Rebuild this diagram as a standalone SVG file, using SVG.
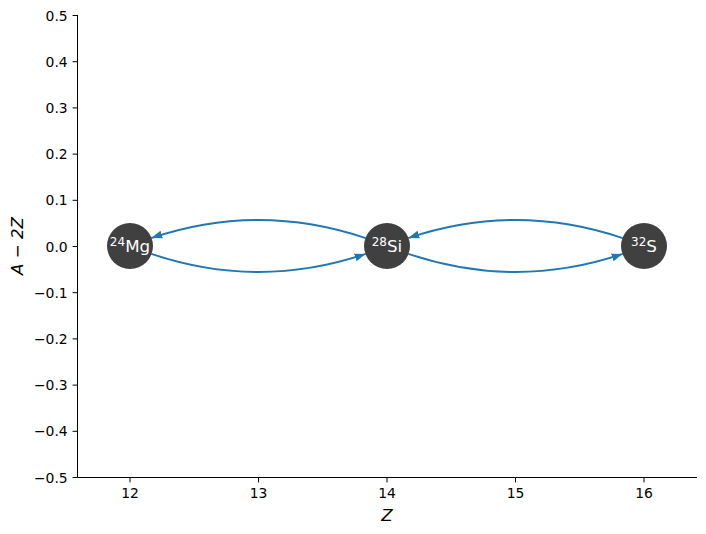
<svg xmlns="http://www.w3.org/2000/svg" width="706" height="534" viewBox="0 0 706 534">
<style>
.ax{stroke:#000;stroke-width:1;fill:none}
.tk{font-family:"DejaVu Sans",sans-serif;font-size:13.9px;fill:#000}
.yl{text-anchor:end}
.xl{text-anchor:middle}
.lab{font-family:"DejaVu Sans",sans-serif;font-size:16.7px;font-style:italic;fill:#000}
.node circle{fill:#404040}
.node text{font-family:"DejaVu Sans",sans-serif;font-size:16.7px;fill:#fff;text-anchor:middle}
.edge{stroke:#1f77b4;stroke-width:2;fill:none;marker-end:url(#ah)}
</style>
<defs>
<marker id="ah" markerUnits="userSpaceOnUse" markerWidth="12" markerHeight="10" refX="11" refY="4" orient="auto" viewBox="0 0 12 8">
<path d="M0,0 L11,4 L0,8 Z" fill="#1f77b4"/>
</marker>
</defs>
<rect width="706" height="534" fill="#fff"/>
<g id="axes">
<path class="ax" d="M77.5,15 V477.5 H697"/>
<path class="ax" d="M72.6,15.5 h4.9 M72.6,61.7 h4.9 M72.6,107.9 h4.9 M72.6,154.1 h4.9 M72.6,200.3 h4.9 M72.6,246.5 h4.9 M72.6,292.7 h4.9 M72.6,338.9 h4.9 M72.6,385.1 h4.9 M72.6,431.3 h4.9 M72.6,477.5 h4.9"/>
<path class="ax" d="M130,477.5 v4.9 M258.5,477.5 v4.9 M387,477.5 v4.9 M515.5,477.5 v4.9 M644,477.5 v4.9"/>
<text class="tk yl" x="67.7" y="20.5">0.5</text>
<text class="tk yl" x="67.7" y="66.7">0.4</text>
<text class="tk yl" x="67.7" y="112.9">0.3</text>
<text class="tk yl" x="67.7" y="159.1">0.2</text>
<text class="tk yl" x="67.7" y="205.3">0.1</text>
<text class="tk yl" x="67.7" y="251.5">0.0</text>
<text class="tk yl" x="67.7" y="297.7">−0.1</text>
<text class="tk yl" x="67.7" y="343.9">−0.2</text>
<text class="tk yl" x="67.7" y="390.1">−0.3</text>
<text class="tk yl" x="67.7" y="436.3">−0.4</text>
<text class="tk yl" x="67.7" y="482.5">−0.5</text>
<text class="tk xl" x="130" y="498">12</text>
<text class="tk xl" x="258.5" y="498">13</text>
<text class="tk xl" x="387" y="498">14</text>
<text class="tk xl" x="515.5" y="498">15</text>
<text class="tk xl" x="644" y="498">16</text>
<text class="lab" x="387" y="521" text-anchor="middle">Z</text>
<text class="lab" transform="translate(23,246) rotate(-90)" text-anchor="middle">A <tspan font-style="normal">−</tspan> 2Z</text>
</g>
<g id="connectors">
<path class="edge" d="M365.7,238.1 Q258.5,201.9 151.3,238.1"/>
<path class="edge" d="M151.3,253.9 Q258.5,290.1 365.7,253.9"/>
<path class="edge" d="M622.7,238.1 Q515.5,201.9 408.3,238.1"/>
<path class="edge" d="M408.3,253.9 Q515.5,290.1 622.7,253.9"/>
</g>
<g id="mg24" class="node">
<circle cx="130" cy="246" r="23"/>
<text x="130" y="252"><tspan font-size="12px" dy="-6">24</tspan><tspan dy="6">Mg</tspan></text>
</g>
<g id="si28" class="node">
<circle cx="387" cy="246" r="23"/>
<text x="387" y="252"><tspan font-size="12px" dy="-6">28</tspan><tspan dy="6">Si</tspan></text>
</g>
<g id="s32" class="node">
<circle cx="644" cy="246" r="23"/>
<text x="644" y="252"><tspan font-size="12px" dy="-6">32</tspan><tspan dy="6">S</tspan></text>
</g>
</svg>
